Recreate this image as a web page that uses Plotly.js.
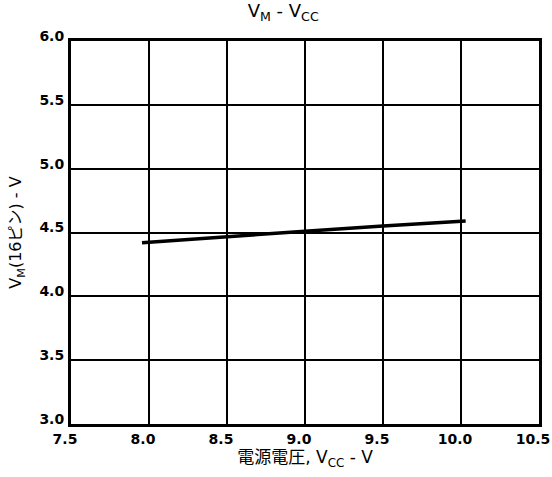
<!DOCTYPE html>
<html>
<head>
<meta charset="utf-8">
<script src="https://cdn.plot.ly/plotly-3.0.1.min.js"></script>
<style>html,body{margin:0;padding:0;background:#fff;}#chart{width:552px;height:477px;}</style>
</head>
<body>
<div id="chart"></div>
<script>
const vcc = [7.955, 8.5, 9.0, 9.5, 10.03];
const vm = [4.42, 4.47, 4.51, 4.55, 4.59];
const xTicks = [7.5, 8.0, 8.5, 9.0, 9.5, 10.0, 10.5];
const xTickText = ['7.5', '8.0', '8.5', '9.0', '9.5', '10.0', '10.5'];
const yTicks = [3.0, 3.5, 4.0, 4.5, 5.0, 5.5, 6.0];
const yTickText = ['3.0', '3.5', '4.0', '4.5', '5.0', '5.5', '6.0'];

const fontFam = '"DejaVu Sans", "Noto Sans CJK JP", sans-serif';
const trace = {
  x: vcc, y: vm, mode: 'lines', type: 'scatter',
  line: {color: '#000', width: 3.5}, hoverinfo: 'skip'
};
const axisCommon = {
  showgrid: true, gridcolor: '#000', gridwidth: 2,
  showline: true, linecolor: '#000', linewidth: 3, mirror: true,
  zeroline: false, ticks: '', tickmode: 'array', ticklabeloverflow: 'allow',
  tickfont: {family: fontFam, size: 14, color: '#000', weight: 'bold'}
};
const layout = {
  width: 552, height: 477,
  margin: {l: 71, r: 13, t: 41, b: 53},
  paper_bgcolor: '#fff', plot_bgcolor: '#fff',
  showlegend: false,
  title: {text: 'V<sub>M</sub> - V<sub>CC</sub>', font: {family: fontFam, size: 18, color: '#000'}, x: 0.513, xanchor: 'center', y: 0.99, yanchor: 'top'},
  xaxis: Object.assign({}, axisCommon, {
    range: [7.5, 10.5], tickvals: xTicks, ticktext: xTickText, ticklabelstandoff: 0, ticklabelshift: -6,
    title: {text: '電源電圧, V<sub>CC</sub> - V', font: {family: fontFam, size: 17, color: '#000'}, standoff: 6}
  }),
  yaxis: Object.assign({}, axisCommon, {
    range: [3.0, 6.0], tickvals: yTicks, ticktext: yTickText, ticklabelshift: -5, ticklabelstandoff: 1,
    title: {text: 'V<sub>M</sub>(16ピン) - V', font: {family: fontFam, size: 16, color: '#000'}, standoff: 14}
  })
};
Plotly.newPlot('chart', [trace], layout, {staticPlot: true, displayModeBar: false});
</script>
</body>
</html>
